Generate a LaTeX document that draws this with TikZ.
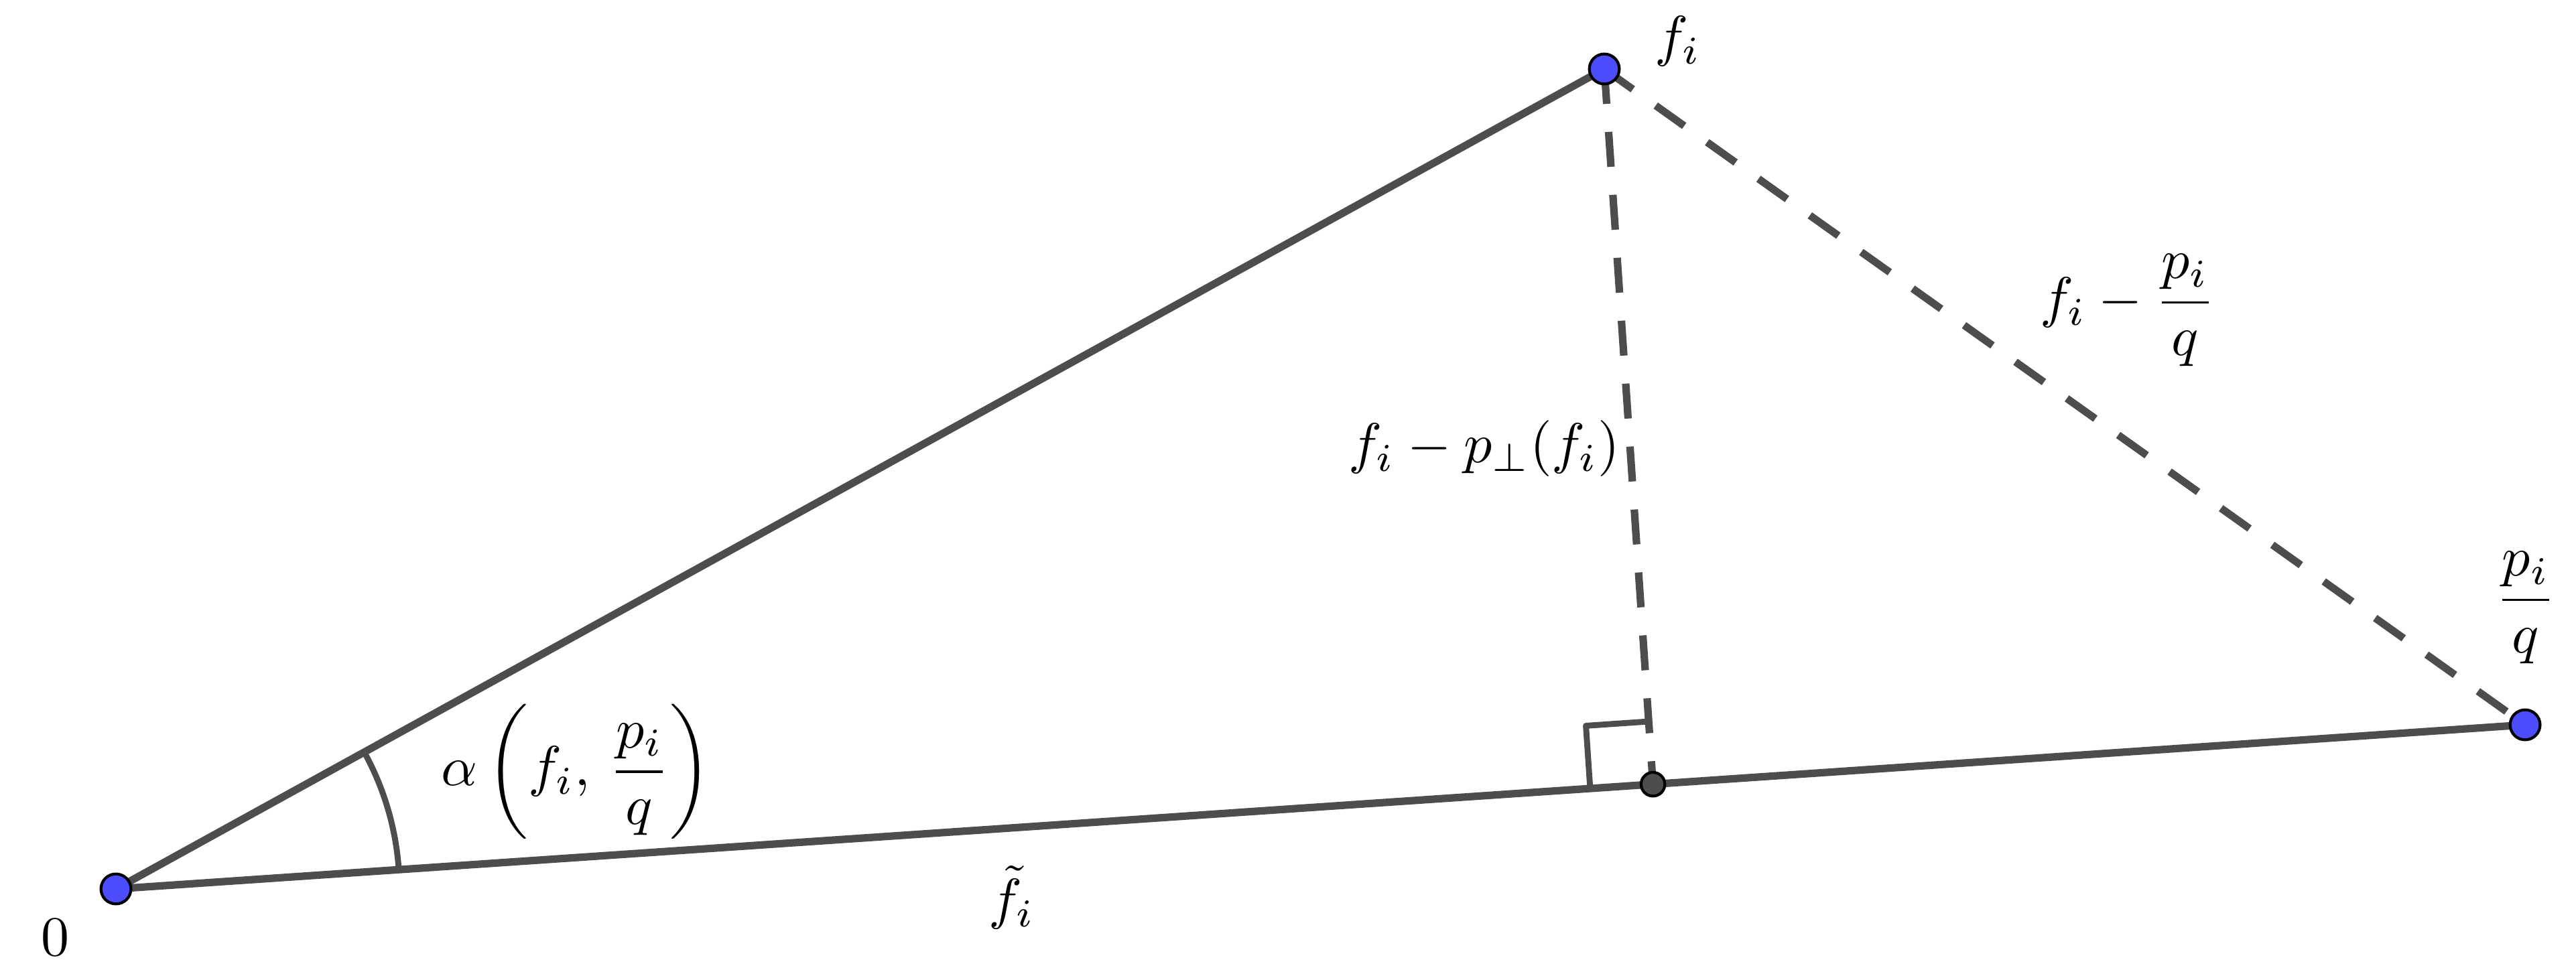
\documentclass[tikz,border=0pt]{standalone}
\usepackage{amsmath}
\usetikzlibrary{calc,angles}
\definecolor{linegray}{HTML}{4D4D4D}
\definecolor{ptblue}{HTML}{4D4DFF}
\begin{document}
\begin{tikzpicture}[x=0.377cm,y=0.377cm,
	seg/.style={linegray,line width=1.2pt},
	dashseg/.style={seg,dash pattern=on 5.6pt off 4.5pt},
	markseg/.style={linegray,line width=0.95pt,line cap=round,line join=round},
	pt/.style={circle,draw=black,line width=0.45pt,fill=ptblue,inner sep=0pt,minimum size=4.8pt},
	footpt/.style={pt,fill=linegray,minimum size=3.8pt},
	lbl/.style={scale=0.9}]
	\useasboundingbox (0,0) rectangle (38.44,14.48);
	\coordinate (O) at (1.73,1.21);
	\coordinate (F) at (23.94,13.45);
	\coordinate (P) at (37.68,3.66);
	\coordinate (H) at ($(O)!(F)!(P)$);
	% right angle mark
	\coordinate (R1) at ($(H)!0.354cm!(O)$);
	\coordinate (R2) at ($(H)!0.354cm!(F)$);
	\coordinate (R3) at ($(R1)+(R2)-(H)$);
	\draw[seg] (O)--(F) (O)--(P);
	\draw[dashseg] (F)--(H) (F)--(P);
	\draw[markseg] (R1)--(R3)--(R2);
	\pic[draw=linegray,line width=0.95pt,line cap=round,angle radius=1.595cm] {angle=P--O--F};
	\foreach \diem in {O,F,P}\node[pt] (dot\diem) at (\diem) {};
	\node[footpt] (dotH) at (H) {};
	% labels
	\node[lbl] (lblO) at (0.82,0.49) {$0$};
	\node[lbl] (lblF) at (25.04,13.86) {$f_i$};
	\node[lbl] (lblP) at (37.69,5.41) {$\dfrac{p_i}{q}$};
	\node[lbl] (lblAngle) at (8.60,2.96) {$\alpha\left(f_i,\,\dfrac{p_i}{q}\right)$};
	\node[lbl] (lblOP) at (15.10,1.08) {$\tilde{f}_i$};
	\node[lbl] (lblFH) at (22.15,7.78) {$f_i-p_\perp(f_i)$};
	\node[lbl] (lblFP) at (31.75,9.85) {$f_i-\dfrac{p_i}{q}$};
\end{tikzpicture}
\end{document}
